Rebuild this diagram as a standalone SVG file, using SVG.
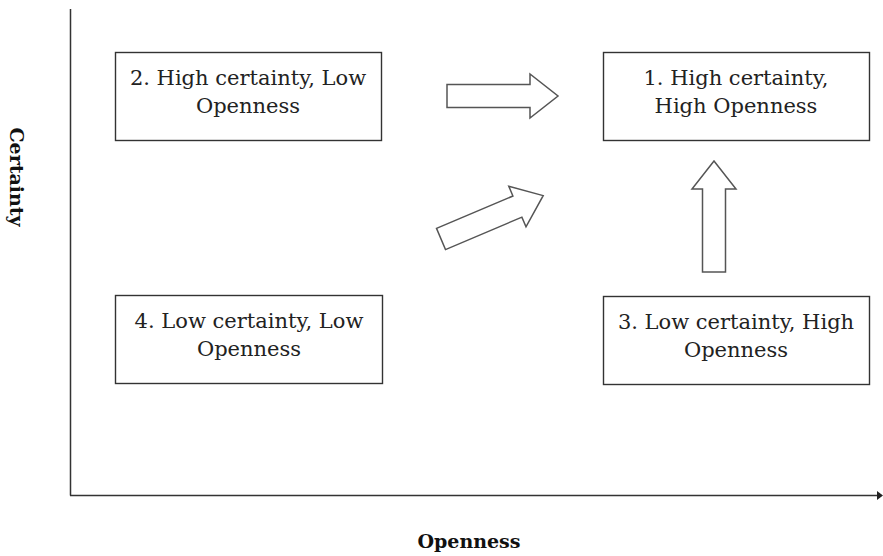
<svg xmlns="http://www.w3.org/2000/svg" width="883" height="556" viewBox="0 0 883 556">
<style>
.box{fill:#fff;stroke:#333;stroke-width:1.4}
.t{font-family:"DejaVu Serif","Liberation Serif",serif;font-size:21px;fill:#222;text-anchor:middle}
.lab{font-family:"DejaVu Serif","Liberation Serif",serif;font-size:19px;font-weight:bold;fill:#111;text-anchor:middle}
.arr{fill:#fff;stroke:#555;stroke-width:1.5;stroke-linejoin:miter}
.axis{stroke:#333;stroke-width:1.5;fill:none}
</style>
<defs>
<path id="bigarrow" d="M0,-11.5 H83 V-22 L111,0 L83,22 V11.5 H0 Z"/>
</defs>
<rect width="883" height="556" fill="#fff"/>
<g id="axes">
<line class="axis" x1="70.5" y1="9" x2="70.5" y2="495.5"/>
<line class="axis" x1="70" y1="495.5" x2="878" y2="495.5"/>
<path d="M877,491 L883,495.5 L877,500 Z" fill="#222"/>
</g>
<g id="axis-labels">
<text class="lab" x="469" y="548">Openness</text>
<text class="lab" transform="translate(10,177) rotate(90)" x="0" y="0">Certainty</text>
</g>
<g id="node2">
<rect class="box" x="115.5" y="52.5" width="266" height="88"/>
<text class="t" x="248" y="85">2. High certainty, Low</text>
<text class="t" x="248" y="113">Openness</text>
</g>
<g id="node1">
<rect class="box" x="603.5" y="52.5" width="266" height="88"/>
<text class="t" x="736" y="85">1. High certainty,</text>
<text class="t" x="736" y="113">High Openness</text>
</g>
<g id="node4">
<rect class="box" x="115.5" y="295.5" width="267" height="88"/>
<text class="t" x="249" y="328">4. Low certainty, Low</text>
<text class="t" x="249" y="356">Openness</text>
</g>
<g id="node3">
<rect class="box" x="603.5" y="296.5" width="266" height="88"/>
<text class="t" x="736" y="329">3. Low certainty, High</text>
<text class="t" x="736" y="357">Openness</text>
</g>
<g id="connectors">
<use href="#bigarrow" class="arr" transform="translate(447,96)"/>
<use href="#bigarrow" class="arr" transform="translate(441,239) rotate(-23)"/>
<use href="#bigarrow" class="arr" transform="translate(714,272) rotate(-90)"/>
</g>
</svg>
